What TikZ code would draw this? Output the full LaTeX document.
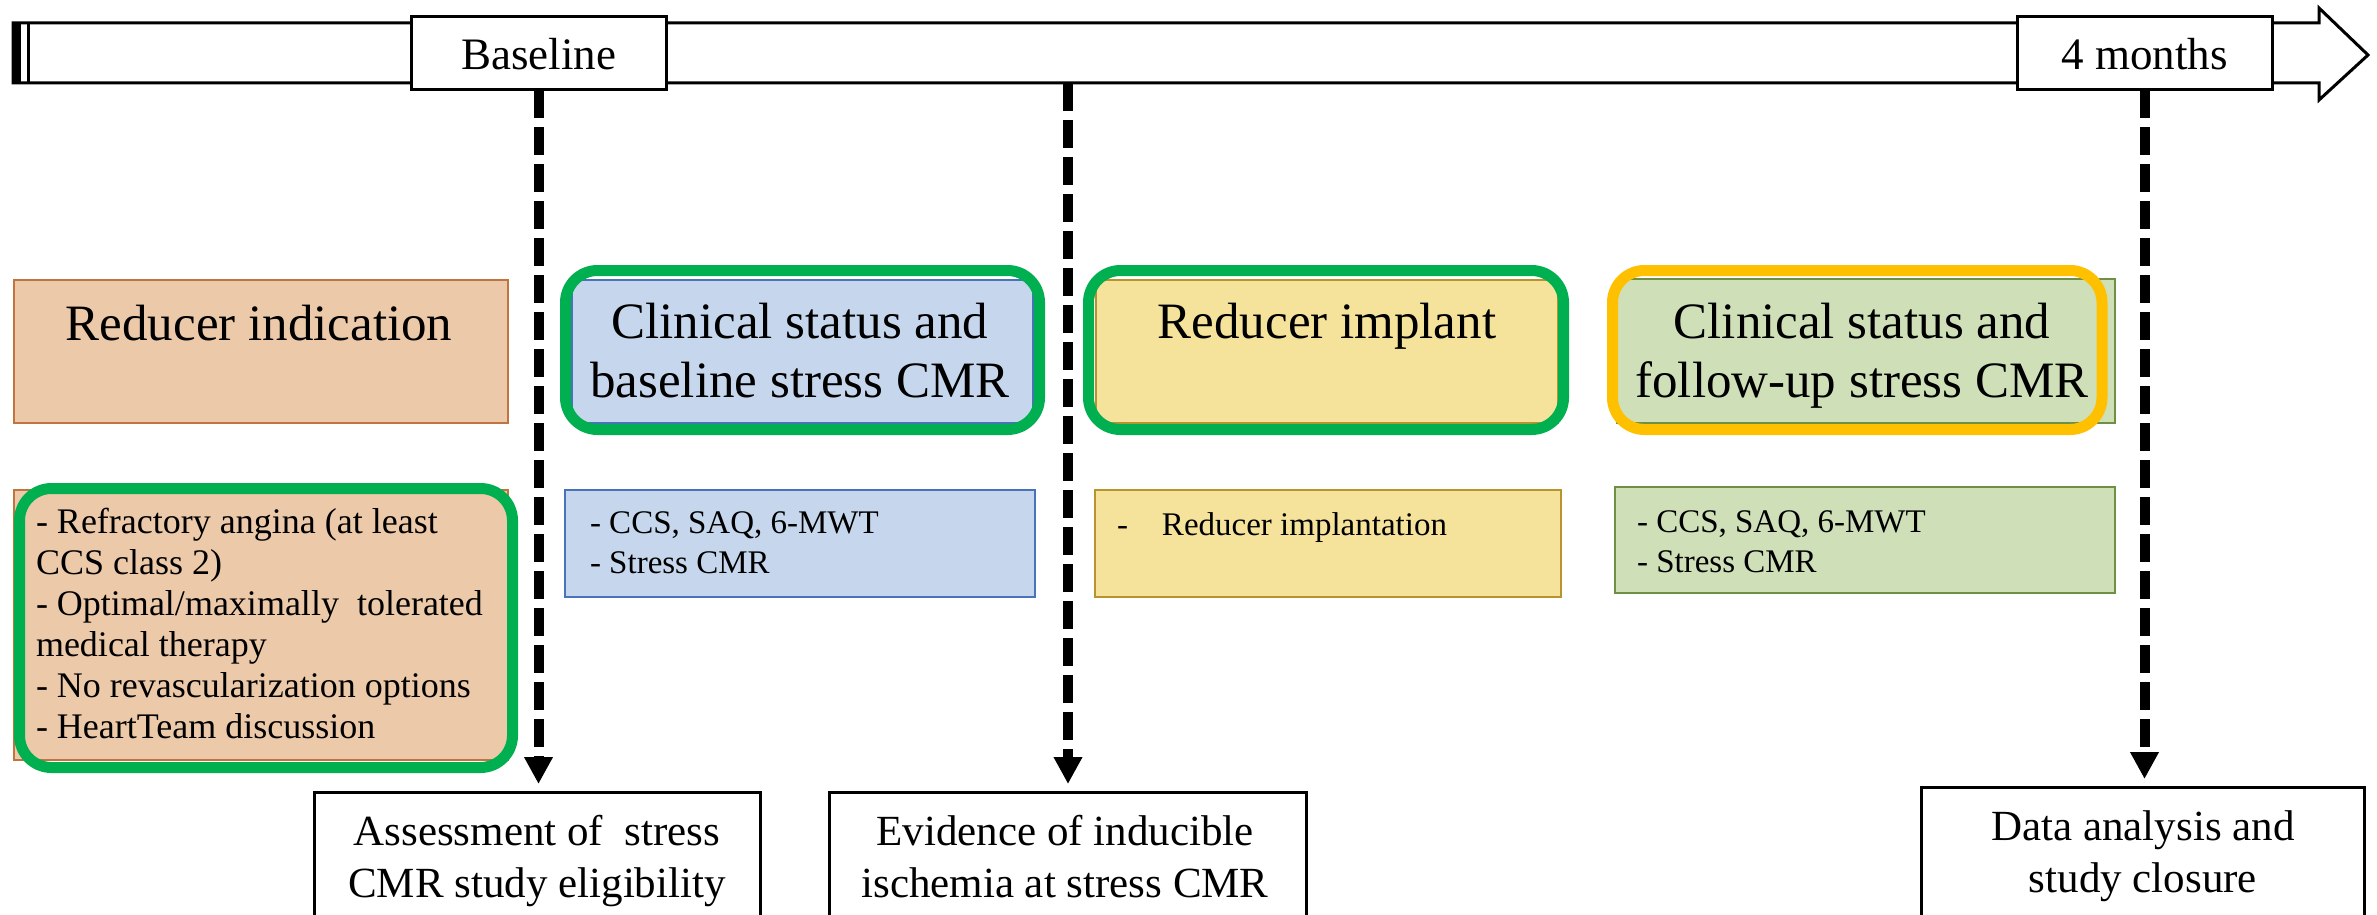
\documentclass[tikz,border=0pt]{standalone}
\usepackage{fontspec}
\setmainfont{Liberation Serif}
\usetikzlibrary{arrows.meta}

% fills and outlines of the phase boxes
\definecolor{peach}{HTML}{ECC9A9}
\definecolor{peachline}{HTML}{C0743F}
\definecolor{bluefill}{HTML}{C6D7ED}
\definecolor{blueline}{HTML}{4A72B8}
\definecolor{goldfill}{HTML}{F6E39B}
\definecolor{goldline}{HTML}{B8942F}
\definecolor{leaf}{HTML}{CFDFB8}
\definecolor{leafline}{HTML}{6F8F45}
\definecolor{okgreen}{HTML}{00B050}
\definecolor{amber}{HTML}{FFC000}

% font sizes
\newcommand\fsMark{\fontsize{45}{54}\selectfont}
\newcommand\fsTitle{\fontsize{51}{59}\selectfont}
\newcommand\fsList{\fontsize{36}{41}\selectfont}
\newcommand\fsDetail{\fontsize{33}{40}\selectfont}
\newcommand\fsFoot{\fontsize{43}{52}\selectfont}

% stacked lines, baseline at the first line
\newcommand\stackC[1]{\begin{tabular}[t]{@{}c@{}}#1\end{tabular}}
\newcommand\stackL[1]{\begin{tabular}[t]{@{}l@{}}#1\end{tabular}}

\tikzset{
  plainbox/.style={draw=black, line width=3pt, fill=white, inner sep=0pt, outer sep=0pt},
  panel/.style={line width=2.5pt, inner sep=0pt, outer sep=0pt, anchor=north west},
  halo/.style={line width=11pt, rounded corners=32pt},
  txt/.style={inner sep=0pt, outer sep=0pt, anchor=base},
  txtl/.style={inner sep=0pt, outer sep=0pt, anchor=base west},
  milestone/.style={draw=black, line width=10pt, dash pattern=on 28pt off 9pt,
    -{Triangle[length=27pt,width=27pt]}, shorten >=8pt},
}

\begin{document}
\begin{tikzpicture}[x=1pt,y=-1pt]
\clip (0,0) rectangle (2377,915);
\fill[white] (0,0) rectangle (2377,915);

% time axis
\draw[line width=3pt, fill=white, line join=miter]
  (13,23) -- (2319,23) -- (2319,8) -- (2368,55) -- (2319,100) -- (2319,83) -- (13,83) -- cycle;
\fill[black] (13,23) rectangle (21,83);
\draw[line width=3pt] (28.5,23) -- (28.5,83);

\node[plainbox, minimum width=255pt, minimum height=73pt] (base) at (538.5,53.5) {};
\node[txt, font=\fsMark] (basetxt) at (538.5,70) {Baseline};
\node[plainbox, minimum width=255pt, minimum height=73pt] (fourm) at (2144.5,53.5) {};
\node[txt, font=\fsMark] (fourmtxt) at (2144.5,70) {4 months};
\coordinate (mid) at (1068,83);

% phase boxes
\node[panel, draw=peachline, fill=peach, minimum width=494pt, minimum height=143pt] (rind) at (14,280) {};
\node[panel, draw=peachline, fill=peach, minimum width=494pt, minimum height=270pt] (crit) at (14,490) {};
\node[panel, draw=blueline, fill=bluefill, minimum width=461pt, minimum height=143pt] (cbase) at (572,280) {};
\node[panel, draw=goldline, fill=goldfill, minimum width=462pt, minimum height=143pt] (impl) at (1096,280) {};
\node[panel, draw=leafline, fill=leaf, minimum width=498pt, minimum height=144pt] (cfup) at (1617,279) {};

\node[panel, draw=blueline, fill=bluefill, minimum width=470pt, minimum height=107pt] (dbase) at (565,490) {};
\node[panel, draw=goldline, fill=goldfill, minimum width=466pt, minimum height=107pt] (dimpl) at (1095,490) {};
\node[panel, draw=leafline, fill=leaf, minimum width=500pt, minimum height=106pt] (dfup) at (1615,487) {};

% highlight rings
\draw[halo, okgreen] (19.5,488.5) rectangle (512.5,767.5);
\draw[halo, okgreen] (565.5,270.5) rectangle (1039.5,429.5);
\draw[halo, okgreen] (1088.5,270.5) rectangle (1563.5,429.5);
\draw[halo, amber] (1612.5,270.5) rectangle (2102,429.5);

% texts of the phase boxes
\node[txt, font=\fsTitle] (rindtxt) at (259,340) {Reducer indication};
\node[txtl, font=\fsList] (crittxt) at (36,533)
  {\stackL{- Refractory angina (at least\\CCS class 2)\\- Optimal/maximally\ \ tolerated\\medical therapy\\- No revascularization options\\- HeartTeam discussion}};
\node[txt, font=\fsTitle] (cbasetxt) at (800,338) {\stackC{Clinical status and\\baseline stress CMR}};
\node[txt, font=\fsTitle] (impltxt) at (1327,338) {Reducer implant};
\node[txt, font=\fsTitle] (cfuptxt) at (1862,338) {\stackC{Clinical status and\\follow-up\ stress CMR}};

\node[txtl, font=\fsDetail] (dbasetxt) at (590,533) {\stackL{- CCS, SAQ, 6-MWT\\- Stress CMR}};
\node[txtl, font=\fsDetail] (dimpltxt) at (1117,535) {\makebox[45pt][l]{-}Reducer implantation};
\node[txtl, font=\fsDetail] (dfuptxt) at (1637,532) {\stackL{- CCS, SAQ, 6-MWT\\- Stress CMR}};

% outcome boxes
\node[plainbox, anchor=north west, minimum width=446pt, minimum height=160pt] (assess) at (314,792) {};
\node[plainbox, anchor=north west, minimum width=477pt, minimum height=160pt] (evid) at (829,792) {};
\node[plainbox, anchor=north west, minimum width=443pt, minimum height=165pt] (data) at (1921,787) {};
\node[txt, font=\fsFoot] (assesstxt) at (537,845) {\stackC{Assessment of\ \ stress\\CMR study eligibility}};
\node[txt, font=\fsFoot] (evidtxt) at (1065,845) {\stackC{Evidence of inducible\\ischemia at stress CMR}};
\node[txt, font=\fsFoot] (datatxt) at (2143,840) {\stackC{Data analysis and\\study closure}};

% milestone arrows
\draw[milestone] (base.south) -- (base.south |- assess.north);
\draw[milestone] (mid) -- (mid |- evid.north);
\draw[milestone] (fourm.south) -- (fourm.south |- data.north);
\end{tikzpicture}
\end{document}
